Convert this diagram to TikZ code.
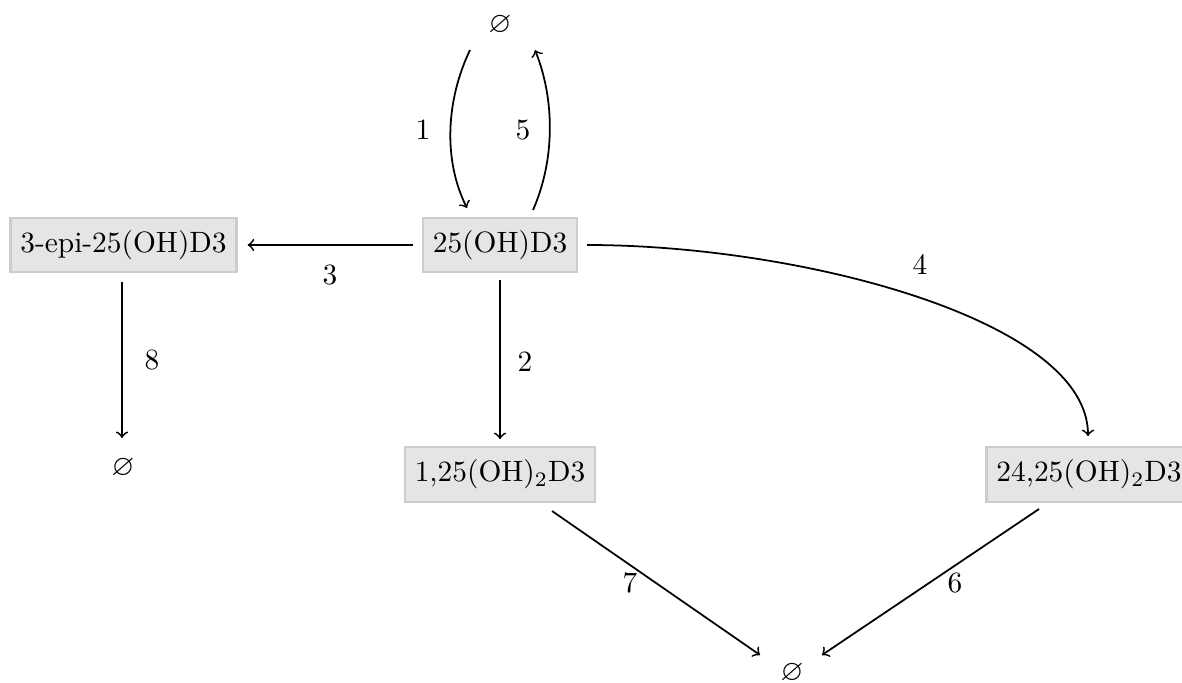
\documentclass[tikz,border=0pt]{standalone}
\usepackage{amssymb}
\usetikzlibrary{calc}
\begin{document}
\begin{tikzpicture}[x=0.34pt,y=-0.34pt,
  species/.style={draw=black!20,fill=black!10,line width=0.8pt,minimum height=18.5pt,inner sep=3.33pt},
  sink/.style={inner sep=1pt},
  flow/.style={->,line width=0.6pt},
  lbl/.style={inner sep=1pt}]
\useasboundingbox (0,0) rectangle (1182,682);
% nodes
\node[sink] (e0) at (500,25) {$\varnothing$};
\node[species] (a) at (500,245) {25(OH)D3};
\node[species] (epi) at (123.5,245) {3-epi-25(OH)D3};
\node[sink] (e1) at (123,468) {$\varnothing$};
\node[species] (b) at (500,474.5) {1,25(OH)$_2$D3};
\node[species] (c) at (1089,474.5) {24,25(OH)$_2$D3};
\node[sink] (e2) at (792,673) {$\varnothing$};
% connectors
\draw[flow] ($(e0)+(-30,25)$) .. controls ($(e0)+(-54,75)$) and ($(a)+(-57,-85)$) .. ($(a)+(-33,-37)$)
  node[lbl, at={(423,130)}] (l1) {1};
\draw[flow] ($(a)+(33,-35)$) .. controls ($(a)+(55,-85)$) and ($(e0)+(55,75)$) .. ($(e0)+(35,25)$)
  node[lbl, at={(523,130)}] (l5) {5};
\draw[flow] ($(a.west)+(-9,0)$) -- ($(epi.east)+(10,0)$)
  node[lbl, at={(330,275)}] (l3) {3};
\draw[flow] ($(a.south)+(0,7)$) -- ($(b.north)+(0,-7)$)
  node[lbl, at={(525,362)}] (l2) {2};
\draw[flow] ($(a.east)+(9,0)$) .. controls (800,245) and (1088,320) .. ($(c.north)+(-1,-10)$)
  node[lbl, at={(920,265)}] (l4) {4};
\draw[flow] ($(epi.south)+(-1.5,9)$) -- ($(e1)+(-1,-30)$)
  node[lbl, at={(152,360)}] (l8) {8};
\draw[flow] ($(b)+(52,36.5)$) -- ($(e2)+(-32,-18)$)
  node[lbl, at={(630,583)}] (l7) {7};
\draw[flow] ($(c)+(-50,34.5)$) -- ($(e2)+(30,-18)$)
  node[lbl, at={(955,583)}] (l6) {6};
\end{tikzpicture}
\end{document}
